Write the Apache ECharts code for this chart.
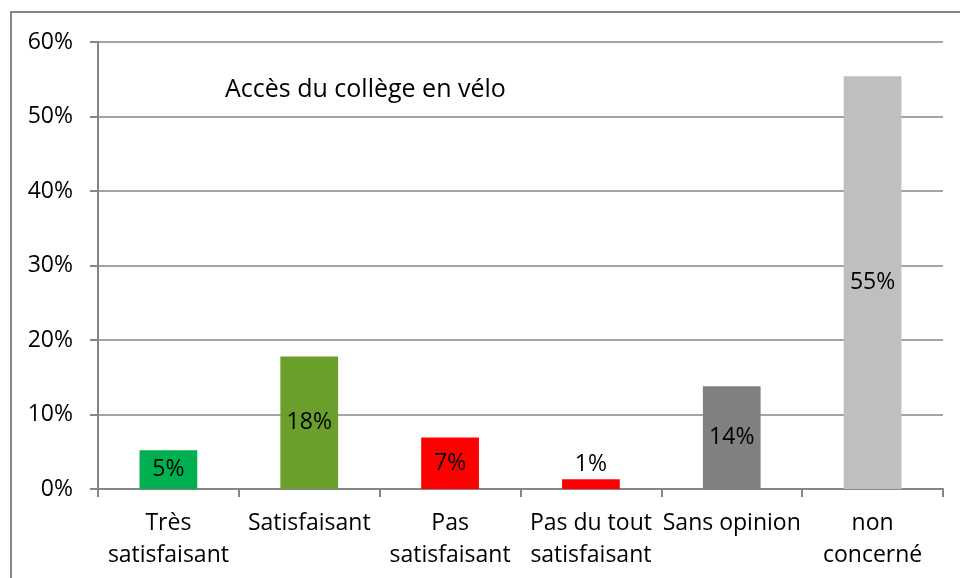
<!DOCTYPE html>
<html>
<head>
<meta charset="utf-8">
<script src="https://cdn.jsdelivr.net/npm/echarts@6/dist/echarts.min.js"></script>
<style>
  html, body { margin: 0; padding: 0; background: #fff; }
  #main { width: 960px; height: 578px; }
</style>
</head>
<body>
<div id="main"></div>
<script>
// data
var categories = ['Très\nsatisfaisant', 'Satisfaisant', 'Pas\nsatisfaisant', 'Pas du tout\nsatisfaisant', 'Sans opinion', 'non\nconcerné'];
var values = [5.2, 17.8, 6.9, 1.3, 13.8, 55.4];
var barColors = ['#00b050', '#6a9f2c', '#ff0000', '#ff0000', '#808080', '#bfbfbf'];
var yTicks = [0, 10, 20, 30, 40, 50, 60];

var chartDom = document.getElementById('main');
var myChart = echarts.init(chartDom);
var font = '"Open Sans", "Noto Sans", sans-serif';
var lineCol = '#868686';

var seriesData = values.map(function (v, i) {
    return {
        value: v,
        itemStyle: { color: barColors[i] },
        // tiny bar: label goes above it, like the original
        label: { position: v < 3 ? 'top' : 'inside', distance: 3 }
    };
});

var option = {
    animation: false,
    title: {
        text: 'Accès du collège en vélo',
        left: 220,
        top: 72,
        textStyle: { fontFamily: font, fontSize: 25, fontWeight: 'normal', color: '#000' }
    },
    graphic: [
        {
            type: 'rect',
            shape: { x: 11, y: 12, width: 1000, height: 640 },
            style: { fill: 'none', stroke: lineCol, lineWidth: 2 },
            z: -1
        }
    ],
    grid: { left: 98, right: 17, top: 42, bottom: 89 },
    xAxis: {
        type: 'category',
        data: categories,
        axisLine: { lineStyle: { color: lineCol, width: 2 } },
        axisTick: { show: true, length: 8, interval: 0, lineStyle: { color: lineCol, width: 2 } },
        axisLabel: {
            interval: 0,
            margin: 18,
            fontFamily: font,
            fontSize: 23,
            lineHeight: 32,
            color: '#000'
        }
    },
    yAxis: {
        type: 'value',
        min: yTicks[0],
        max: yTicks[yTicks.length - 1],
        interval: 10,
        axisLine: { show: true, lineStyle: { color: lineCol, width: 2 } },
        axisTick: { show: true, length: 8, lineStyle: { color: lineCol, width: 2 } },
        splitLine: { lineStyle: { color: lineCol, width: 1.5 } },
        axisLabel: {
            margin: 25,
            fontFamily: font,
            fontSize: 23,
            color: '#000',
            formatter: '{value}%'
        }
    },
    series: [
        {
            type: 'bar',
            barWidth: '41%',
            data: seriesData,
            label: {
                show: true,
                fontFamily: font,
                fontSize: 23,
                color: '#000',
                formatter: function (p) { return Math.round(p.value) + '%'; }
            }
        }
    ]
};

option && myChart.setOption(option);
</script>
</body>
</html>
